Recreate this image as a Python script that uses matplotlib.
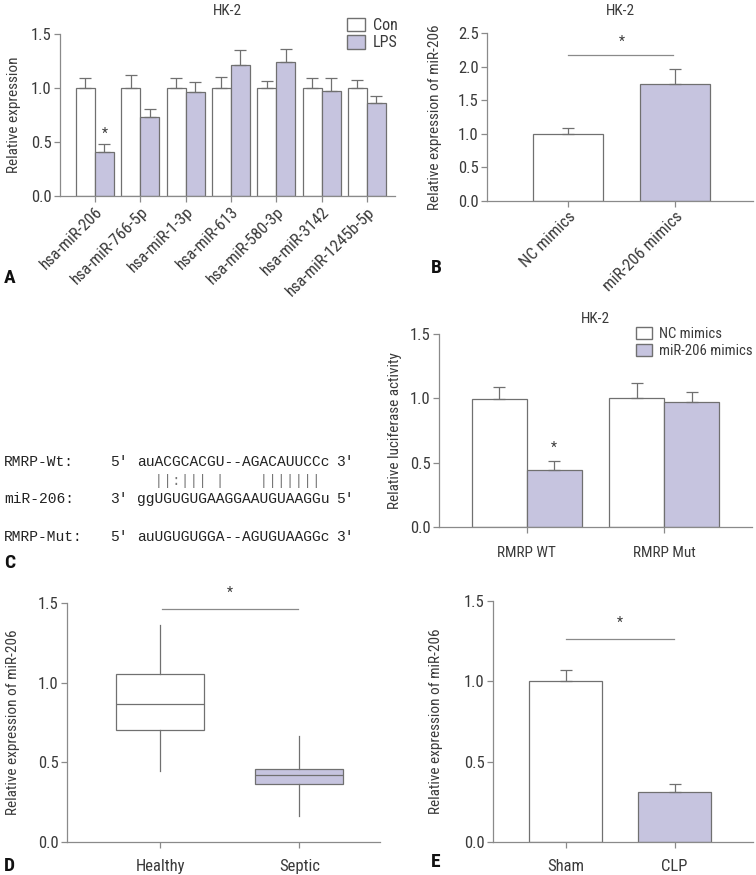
import numpy as np
import matplotlib
matplotlib.use('Agg')
import matplotlib.pyplot as plt
from matplotlib.patches import Patch

W, H = 756, 875

# ---- data ----
mirnas = ['hsa-miR-206', 'hsa-miR-766-5p', 'hsa-miR-1-3p', 'hsa-miR-613',
          'hsa-miR-580-3p', 'hsa-miR-3142', 'hsa-miR-1245b-5p']
con_vals = [1.0, 1.0, 1.0, 1.0, 1.0, 1.0, 1.0]
con_err = [0.09, 0.12, 0.09, 0.10, 0.065, 0.09, 0.075]
lps_vals = [0.41, 0.73, 0.96, 1.21, 1.24, 0.97, 0.86]
lps_err = [0.07, 0.08, 0.10, 0.14, 0.12, 0.12, 0.07]

mimic_groups = ['NC mimics', 'miR-206 mimics']
mimic_vals = [1.0, 1.74]
mimic_err = [0.08, 0.22]

luc_groups = ['RMRP WT', 'RMRP Mut']
luc_nc = [0.995, 1.0]
luc_nc_err = [0.095, 0.12]
luc_mir = [0.445, 0.97]
luc_mir_err = [0.065, 0.08]

box_groups = ['Healthy', 'Septic']
box_whislo = [0.448, 0.161]
box_q1 = [0.703, 0.364]
box_med = [0.866, 0.42]
box_q3 = [1.054, 0.458]
box_whishi = [1.362, 0.665]

model_groups = ['Sham', 'CLP']
model_vals = [1.0, 0.31]
model_err = [0.07, 0.05]

seq_labels = ['RMRP-Wt:', 'miR-206:', 'RMRP-Mut:']
seq_ends = [("5'", "3'"), ("3'", "5'"), ("5'", "3'")]
seqs = ['auACGCACGU--AGACAUUCCc', 'ggUGUGUGAAGGAAUGUAAGGu', 'auUGUGUGGA--AGUGUAAGGc']
pairing = '  ||:||| |    |||||||'

# ---- style ----
LAV = '#c6c4df'
EDGE = '#707070'
SPINE = '#8a8a8a'
TXT = '#3a3a3a'
COND = ['Roboto Condensed', 'Archivo Narrow', 'PT Sans Narrow', 'Liberation Sans Narrow',
        'Liberation Sans', 'DejaVu Sans']
plt.rcParams['font.family'] = COND
plt.rcParams['font.size'] = 10
plt.rcParams['text.color'] = TXT
plt.rcParams['axes.labelcolor'] = TXT
plt.rcParams['xtick.color'] = SPINE
plt.rcParams['ytick.color'] = SPINE
plt.rcParams['xtick.labelcolor'] = TXT
plt.rcParams['ytick.labelcolor'] = TXT

fig = plt.figure(figsize=(W / 100, H / 100), dpi=100)


def px_axes(l, t, r, b):
    return fig.add_axes([l / W, 1 - b / H, (r - l) / W, (b - t) / H])


def style(ax, ylim, yticks, ylabel, label_x):
    ax.set_ylim(*ylim)
    ax.set_yticks(yticks)
    ax.set_yticklabels([f'{v:.1f}' for v in yticks], fontsize=12)
    for s in ['top', 'right']:
        ax.spines[s].set_visible(False)
    for s in ['left', 'bottom']:
        ax.spines[s].set_color(SPINE)
        ax.spines[s].set_linewidth(0.9)
    ax.tick_params(axis='both', length=4, width=0.9, direction='out', pad=2)
    ax.set_ylabel(ylabel, fontsize=11)
    pos = ax.get_position()
    ax.yaxis.set_label_coords((label_x / W - pos.x0) / pos.width, 0.5)
    ax.set_facecolor('none')


def err(ax, x, v, e):
    ax.errorbar(x, v, yerr=[[0] * len(v), e], fmt='none', ecolor=EDGE,
                elinewidth=0.9, capsize=4, capthick=0.9)


def legend(ax, labels, x_px, y_frac, size):
    pos = ax.get_position()
    ax.legend(handles=[Patch(facecolor='white', edgecolor=EDGE, label=labels[0]),
                       Patch(facecolor=LAV, edgecolor=EDGE, label=labels[1])],
              loc='upper left', bbox_to_anchor=((x_px / W - pos.x0) / pos.width, y_frac),
              frameon=False, fontsize=size, handlelength=1.1, handleheight=0.9,
              handletextpad=0.5, labelspacing=0.15, borderaxespad=0, borderpad=0)


# ---- A ----
axA = px_axes(60, 34, 395, 196)
xa = np.arange(len(mirnas))
bw = 0.42
axA.bar(xa - bw / 2, con_vals, bw, color='white', edgecolor=EDGE, linewidth=0.9)
axA.bar(xa + bw / 2, lps_vals, bw, color=LAV, edgecolor=EDGE, linewidth=0.9)
err(axA, xa - bw / 2, con_vals, con_err)
err(axA, xa + bw / 2, lps_vals, lps_err)
axA.set_xlim(-0.77, 6.62)
axA.set_xticks(xa)
axA.set_xticklabels(mirnas, rotation=45, ha='right', rotation_mode='anchor', fontsize=12)
style(axA, (0, 1.5), [0, 0.5, 1.0, 1.5], 'Relative expression', 21)
axA.text(0 + bw / 2, lps_vals[0] + lps_err[0] + 0.03, '*', ha='center', va='bottom', fontsize=10)
axA.set_title('HK-2', fontsize=11, pad=14)
legend(axA, ['Con', 'LPS'], 347, 1.10, 11.5)

# ---- B ----
axB = px_axes(487, 33, 753, 201)
xb = np.arange(len(mimic_groups))
axB.bar(xb, mimic_vals, 0.66, color=['white', LAV], edgecolor=EDGE, linewidth=0.9)
err(axB, xb, mimic_vals, mimic_err)
axB.set_xlim(-0.76, 1.73)
axB.set_xticks(xb)
axB.set_xticklabels(mimic_groups, rotation=45, ha='right', rotation_mode='anchor', fontsize=12)
style(axB, (0, 2.5), [0, 0.5, 1.0, 1.5, 2.0, 2.5], 'Relative expression of miR-206', 442)
axB.plot([0.0, 0.98], [2.18, 2.18], color=SPINE, lw=0.9)
axB.text(0.5, 2.27, '*', ha='center', va='bottom', fontsize=10)
axB.set_title('HK-2', fontsize=11, pad=13)

# ---- C (sequences) ----
rows_y = [462, 499, 537]
mono = ['Liberation Mono', 'DejaVu Sans Mono']
for lab, (e1, e2), s, y in zip(seq_labels, seq_ends, seqs, rows_y):
    for x, t in [(4, lab), (110, e1), (137, s), (336, e2)]:
        fig.text(x / W, 1 - y / H, t, family=mono, fontsize=10.5, va='center', color='#222222')
fig.text(137 / W, 1 - 481 / H, pairing, family=mono, fontsize=10.5, va='center', color='#777777')

# ---- C (luciferase) ----
axL = px_axes(439, 334, 752, 527)
xl = np.arange(len(luc_groups))
lw_ = 0.40
axL.bar(xl - lw_ / 2, luc_nc, lw_, color='white', edgecolor=EDGE, linewidth=0.9)
axL.bar(xl + lw_ / 2, luc_mir, lw_, color=LAV, edgecolor=EDGE, linewidth=0.9)
err(axL, xl - lw_ / 2, luc_nc, luc_nc_err)
err(axL, xl + lw_ / 2, luc_mir, luc_mir_err)
axL.set_xlim(-0.64, 1.64)
axL.set_xticks(xl)
axL.set_xticklabels(luc_groups, fontsize=11)
style(axL, (0, 1.5), [0, 0.5, 1.0, 1.5], 'Relative luciferase activity', 402)
axL.tick_params(axis='x', pad=10)
axL.text(lw_ / 2, luc_mir[0] + luc_mir_err[0] + 0.05, '*', ha='center', va='bottom', fontsize=10)
axL.set_title('HK-2', fontsize=11, pad=8)
legend(axL, ['NC mimics', 'miR-206 mimics'], 636, 1.035, 10.5)

# ---- D ----
axD = px_axes(67, 603, 380, 842)
stats = [dict(whislo=lo, q1=a, med=m, q3=b, whishi=hi, fliers=[], label=g)
         for lo, a, m, b, hi, g in zip(box_whislo, box_q1, box_med, box_q3, box_whishi, box_groups)]
bp = axD.bxp(stats, positions=[0, 1], widths=0.63, patch_artist=True, showfliers=False,
             boxprops=dict(edgecolor=EDGE, linewidth=0.9),
             medianprops=dict(color=EDGE, linewidth=0.9),
             whiskerprops=dict(color=EDGE, linewidth=0.9),
             capprops=dict(color=EDGE, linewidth=0.0))
for patch, c in zip(bp['boxes'], ['white', LAV]):
    patch.set_facecolor(c)
axD.set_xlim(-0.67, 1.58)
axD.set_xticks([0, 1])
axD.set_xticklabels(box_groups, fontsize=12)
style(axD, (0, 1.5), [0, 0.5, 1.0, 1.5], 'Relative expression of miR-206', 20)
axD.tick_params(axis='x', pad=8)
axD.plot([0.01, 0.99], [1.46, 1.46], color=SPINE, lw=0.9)
axD.text(0.5, 1.52, '*', ha='center', va='bottom', fontsize=10)

# ---- E ----
axE = px_axes(493, 601, 753, 842)
xe = np.arange(len(model_groups))
axE.bar(xe, model_vals, 0.67, color=['white', LAV], edgecolor=EDGE, linewidth=0.9)
err(axE, xe, model_vals, model_err)
axE.set_xlim(-0.67, 1.72)
axE.set_xticks(xe)
axE.set_xticklabels(model_groups, fontsize=12)
style(axE, (0, 1.5), [0, 0.5, 1.0, 1.5], 'Relative expression of miR-206', 443)
axE.tick_params(axis='x', pad=8)
axE.plot([0.0, 0.99], [1.264, 1.264], color=SPINE, lw=0.9)
axE.text(0.5, 1.32, '*', ha='center', va='bottom', fontsize=10)

# ---- panel letters ----
for letter, x, y in [('A', 4, 278), ('B', 431, 268), ('C', 4, 563), ('D', 4, 866), ('E', 431, 862)]:
    fig.text(x / W, 1 - y / H, letter, fontsize=14, fontweight='bold', color='#111111',
             va='center', ha='left')

fig.savefig('out.png', dpi=100)
